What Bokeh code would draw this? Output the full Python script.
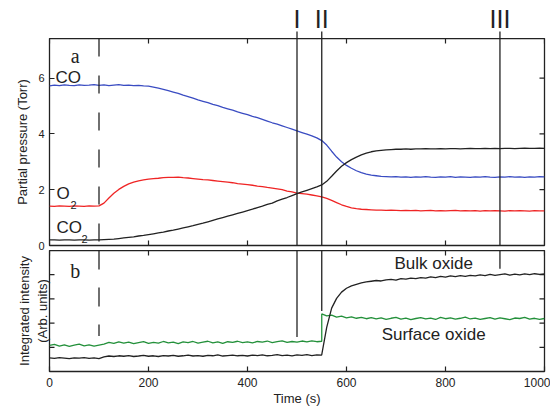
import math
from bokeh.plotting import figure
from bokeh.layouts import column
from bokeh.models import Range1d, Label, FixedTicker, Span
from bokeh.core.properties import value
from bokeh.embed import file_html
from bokeh.resources import INLINE

# ---------------- data ----------------
time_s = list(range(0, 1001, 10))

co = [5.72, 5.75, 5.73, 5.76, 5.74, 5.73, 5.76, 5.74, 5.75, 5.77, 5.74,
      5.76, 5.73, 5.75, 5.77, 5.74, 5.75, 5.73, 5.74, 5.72, 5.71,
      5.68, 5.64, 5.60, 5.55, 5.50, 5.45, 5.39, 5.34, 5.28, 5.22,
      5.17, 5.12, 5.06, 5.01, 4.95, 4.90, 4.85, 4.79, 4.74, 4.69,
      4.63, 4.58, 4.52, 4.46, 4.40, 4.35, 4.29, 4.23, 4.17, 4.11,
      4.05, 3.99, 3.93, 3.86, 3.76, 3.60, 3.38, 3.17, 3.00, 2.87,
      2.77, 2.68, 2.61, 2.56, 2.52, 2.50, 2.48, 2.47, 2.46, 2.47,
      2.45, 2.46, 2.44, 2.46, 2.45, 2.47, 2.45, 2.44, 2.46, 2.45,
      2.47, 2.44, 2.46, 2.45, 2.44, 2.46, 2.45, 2.47, 2.45, 2.44,
      2.46, 2.45, 2.47, 2.45, 2.46, 2.44, 2.46, 2.45, 2.47, 2.46]

o2 = [1.41, 1.40, 1.42, 1.41, 1.40, 1.42, 1.41, 1.40, 1.42, 1.41, 1.42,
      1.52, 1.70, 1.87, 2.01, 2.12, 2.21, 2.27, 2.32, 2.35, 2.38,
      2.40, 2.41, 2.43, 2.44, 2.44, 2.45, 2.43, 2.42, 2.40, 2.38,
      2.36, 2.35, 2.33, 2.31, 2.29, 2.27, 2.25, 2.22, 2.20, 2.18,
      2.16, 2.13, 2.11, 2.08, 2.06, 2.03, 2.00, 1.95, 1.92, 1.88,
      1.86, 1.84, 1.81, 1.78, 1.74, 1.69, 1.62, 1.54, 1.46, 1.40,
      1.35, 1.32, 1.30, 1.29, 1.28, 1.27, 1.27, 1.26, 1.27, 1.26,
      1.25, 1.26, 1.25, 1.26, 1.24, 1.25, 1.26, 1.24, 1.25, 1.24,
      1.25, 1.26, 1.24, 1.25, 1.24, 1.25, 1.23, 1.25, 1.24, 1.25,
      1.24, 1.23, 1.25, 1.24, 1.25, 1.24, 1.23, 1.25, 1.24, 1.24]

co2 = [0.20, 0.20, 0.19, 0.20, 0.20, 0.19, 0.20, 0.20, 0.19, 0.20, 0.20,
       0.21, 0.22, 0.23, 0.25, 0.27, 0.29, 0.31, 0.34, 0.36, 0.39,
       0.42, 0.45, 0.48, 0.52, 0.55, 0.59, 0.63, 0.67, 0.71, 0.76,
       0.80, 0.85, 0.90, 0.95, 1.00, 1.05, 1.10, 1.15, 1.20, 1.25,
       1.30, 1.36, 1.41, 1.47, 1.52, 1.60, 1.66, 1.72, 1.79, 1.86,
       1.92, 1.98, 2.04, 2.10, 2.17, 2.30, 2.48, 2.67, 2.84, 2.97,
       3.08, 3.17, 3.25, 3.31, 3.36, 3.39, 3.41, 3.43, 3.44, 3.45,
       3.45, 3.46, 3.45, 3.46, 3.46, 3.47, 3.46, 3.46, 3.47, 3.46,
       3.47, 3.47, 3.46, 3.47, 3.48, 3.47, 3.47, 3.48, 3.47, 3.48,
       3.47, 3.48, 3.48, 3.47, 3.48, 3.49, 3.48, 3.48, 3.49, 3.48]

time_b = list(range(0, 551, 10)) + list(range(550, 1001, 10))

surface_oxide = [1.08, 1.12, 1.05, 1.10, 1.04, 1.09, 1.13, 1.06, 1.10, 1.05, 1.09,
                 1.13, 1.20, 1.16, 1.22, 1.17, 1.21, 1.15, 1.19, 1.23, 1.16,
                 1.20, 1.17, 1.24, 1.18, 1.21, 1.15, 1.22, 1.19, 1.24, 1.17,
                 1.21, 1.25, 1.18, 1.22, 1.16, 1.23, 1.20, 1.25, 1.19, 1.22,
                 1.18, 1.24, 1.21, 1.26, 1.19, 1.23, 1.27, 1.20, 1.24, 1.21,
                 1.26, 1.22, 1.27, 1.23, 1.25,
                 2.38,
                 2.30, 2.33, 2.25, 2.29, 2.22, 2.26, 2.20, 2.24, 2.18, 2.23,
                 2.17, 2.22, 2.15, 2.20, 2.24, 2.16, 2.21, 2.14, 2.19, 2.23,
                 2.17, 2.21, 2.15, 2.24, 2.18, 2.22, 2.16, 2.20, 2.25, 2.17,
                 2.21, 2.15, 2.19, 2.23, 2.16, 2.22, 2.18, 2.14, 2.21, 2.19,
                 2.24, 2.16, 2.20, 2.15, 2.19]

bulk_oxide = [0.56, 0.54, 0.57, 0.55, 0.53, 0.56, 0.55, 0.57, 0.54, 0.56, 0.53,
              0.60, 0.64, 0.62, 0.65, 0.63, 0.66, 0.62, 0.64, 0.67, 0.63,
              0.65, 0.62, 0.66, 0.64, 0.67, 0.63, 0.65, 0.68, 0.64, 0.66,
              0.63, 0.67, 0.65, 0.69, 0.64, 0.66, 0.68, 0.65, 0.67, 0.64,
              0.68, 0.66, 0.69, 0.65, 0.67, 0.70, 0.66, 0.68, 0.65, 0.69,
              0.67, 0.70, 0.66, 0.69, 0.68,
              0.70,
              1.82, 2.62, 3.02, 3.28, 3.44, 3.54, 3.60, 3.66, 3.70, 3.73,
              3.76, 3.74, 3.79, 3.81, 3.78, 3.84, 3.82, 3.86, 3.84, 3.88,
              3.86, 3.91, 3.88, 3.93, 3.90, 3.95, 3.92, 3.96, 3.93, 3.97,
              3.95, 3.99, 3.96, 4.01, 3.97, 4.00, 4.03, 3.98, 4.02, 3.99,
              4.03, 4.00, 4.04, 4.01, 4.03]

start_time = 100
start_end_b = 1.47
event_times = [500, 550, 910]
event_labels = ["I", "II", "III"]
event_end_b = [1.43, 2.5, 4.25]

x_min, x_max = 0, 1000
ya_min, ya_max = 0, 7.42
yb_min, yb_max = 0, 5
x_ticks = [0, 200, 400, 600, 800, 1000]
ya_ticks = [0, 2, 4, 6]
yb_ticks = [1, 2, 3, 4]

# ---------------- styling ----------------
W = 550
LB = 49
RB = 6
INK = "#222222"
BLUE = "#3a4cc2"
RED = "#ef2424"
GREEN = "#23903a"
SANS = "Liberation Sans"

xr = Range1d(x_min, x_max)


def base_fig(h, yr, top=0, bottom=0, xloc=None, yloc="left"):
    p = figure(width=W, height=h, x_range=xr, y_range=yr,
               output_backend="svg", toolbar_location=None,
               x_axis_location=xloc, y_axis_location=yloc,
               min_border_left=LB, min_border_right=RB,
               min_border_top=top, min_border_bottom=bottom)
    p.grid.grid_line_color = None
    p.background_fill_color = "white"
    p.border_fill_color = "white"
    return p


def style_axis(ax, ticks):
    ax.ticker = FixedTicker(ticks=ticks)
    ax.major_tick_in = 5
    ax.major_tick_out = 0
    ax.minor_tick_line_color = None
    ax.axis_line_color = None
    ax.major_tick_line_color = INK
    ax.major_tick_line_width = 1.2
    ax.major_label_text_font = SANS
    ax.major_label_text_color = INK
    ax.axis_label_text_font = SANS
    ax.axis_label_text_font_size = "13px"
    ax.axis_label_text_font_style = "normal"
    ax.axis_label_text_color = INK


def inner_ticks(p, xs, ys, vertical):
    # inward tick marks on frame edges (half of each dash is clipped by the frame)
    p.scatter(x=xs, y=ys, marker="dash", size=10,
              angle=(math.pi / 2 if vertical else 0),
              line_color=INK, line_width=1.2)


# ---------------- strip with event labels ----------------
SH = 38
strip = base_fig(SH, Range1d(0, SH), xloc=None, yloc=None)
strip.outline_line_color = None
strip.segment(x0=event_times, y0=[0] * 3, x1=event_times, y1=[7] * 3,
              line_color=INK, line_width=1.3)
strip.text(x=event_times, y=[34] * 3, text=event_labels,
           text_align="center", text_baseline="top",
           text_font=value(SANS), text_font_size="25px",
           text_color=INK)

# ---------------- panel a ----------------
pa = base_fig(212, Range1d(ya_min, ya_max), bottom=5, xloc=None, yloc="left")
pa.outline_line_color = INK
pa.outline_line_width = 1.3
ya = pa.yaxis[0]
style_axis(ya, ya_ticks)
ya.major_label_text_font_size = "11px"
ya.major_label_standoff = 5
ya.axis_label = "Partial pressure (Torr)"
ya.axis_label_standoff = 5
inner_ticks(pa, x_ticks, [ya_max] * len(x_ticks), True)
inner_ticks(pa, x_ticks, [ya_min] * len(x_ticks), True)
inner_ticks(pa, [x_max] * len(ya_ticks), ya_ticks, False)

pa.add_layout(Span(location=start_time, dimension="height", line_color=INK,
                   line_width=1.3, line_dash="18 19"))
for t in event_times:
    pa.add_layout(Span(location=t, dimension="height", line_color=INK, line_width=1.3))

pa.line(time_s, co, line_color=BLUE, line_width=1.3)
pa.line(time_s, o2, line_color=RED, line_width=1.3)
pa.line(time_s, co2, line_color=INK, line_width=1.3)

lbl = dict(text_font=SANS, text_font_size="17px", text_color=INK)
sub = dict(text_font=SANS, text_font_size="11px", text_color=INK)
pa.add_layout(Label(x=52, y=6.4, text="a", text_align="center",
                    text_font="Liberation Serif", text_font_size="20px", text_color=INK))
pa.add_layout(Label(x=12, y=5.69, text="CO", **lbl))
pa.add_layout(Label(x=14, y=1.52, text="O", **lbl))
pa.add_layout(Label(x=14, y=1.52, x_offset=14, y_offset=-6, text="2", **sub))
pa.add_layout(Label(x=14, y=0.32, text="CO", **lbl))
pa.add_layout(Label(x=14, y=0.32, x_offset=25, y_offset=-6, text="2", **sub))

# ---------------- panel b ----------------
pb = base_fig(158, Range1d(yb_min, yb_max), top=0, xloc="below", yloc="left")
pb.outline_line_color = INK
pb.outline_line_width = 1.3
xa = pb.xaxis[0]
style_axis(xa, x_ticks)
xa.major_label_text_font_size = "12px"
xa.major_label_standoff = 6
xa.axis_label = "Time (s)"
xa.axis_label_standoff = 1
yb = pb.yaxis[0]
style_axis(yb, [])
yb.major_label_standoff = 0
yb.axis_label = "Integrated intensity\n(Arb. units)"
yb.axis_label_standoff = 0
inner_ticks(pb, x_ticks, [yb_max] * len(x_ticks), True)
inner_ticks(pb, [x_min] * len(yb_ticks), yb_ticks, False)
inner_ticks(pb, [x_max] * len(yb_ticks), yb_ticks, False)

pb.segment(x0=[start_time], y0=[yb_max], x1=[start_time], y1=[start_end_b],
           line_color=INK, line_width=1.3, line_dash="19 18")
pb.segment(x0=event_times, y0=[yb_max] * 3, x1=event_times, y1=event_end_b,
           line_color=INK, line_width=1.3)

pb.line(time_b, surface_oxide, line_color=GREEN, line_width=1.3)
pb.line(time_b, bulk_oxide, line_color=INK, line_width=1.3)

pb.add_layout(Label(x=52, y=3.68, text="b", text_align="center",
                    text_font="Liberation Serif", text_font_size="20px", text_color=INK))
pb.add_layout(Label(x=776, y=4.09, text="Bulk oxide", text_align="center", **lbl))
pb.add_layout(Label(x=776, y=1.15, text="Surface oxide", text_align="center", **lbl))

layout = column(strip, pa, pb, spacing=0)
open("out.html", "w").write(file_html(layout, INLINE))
